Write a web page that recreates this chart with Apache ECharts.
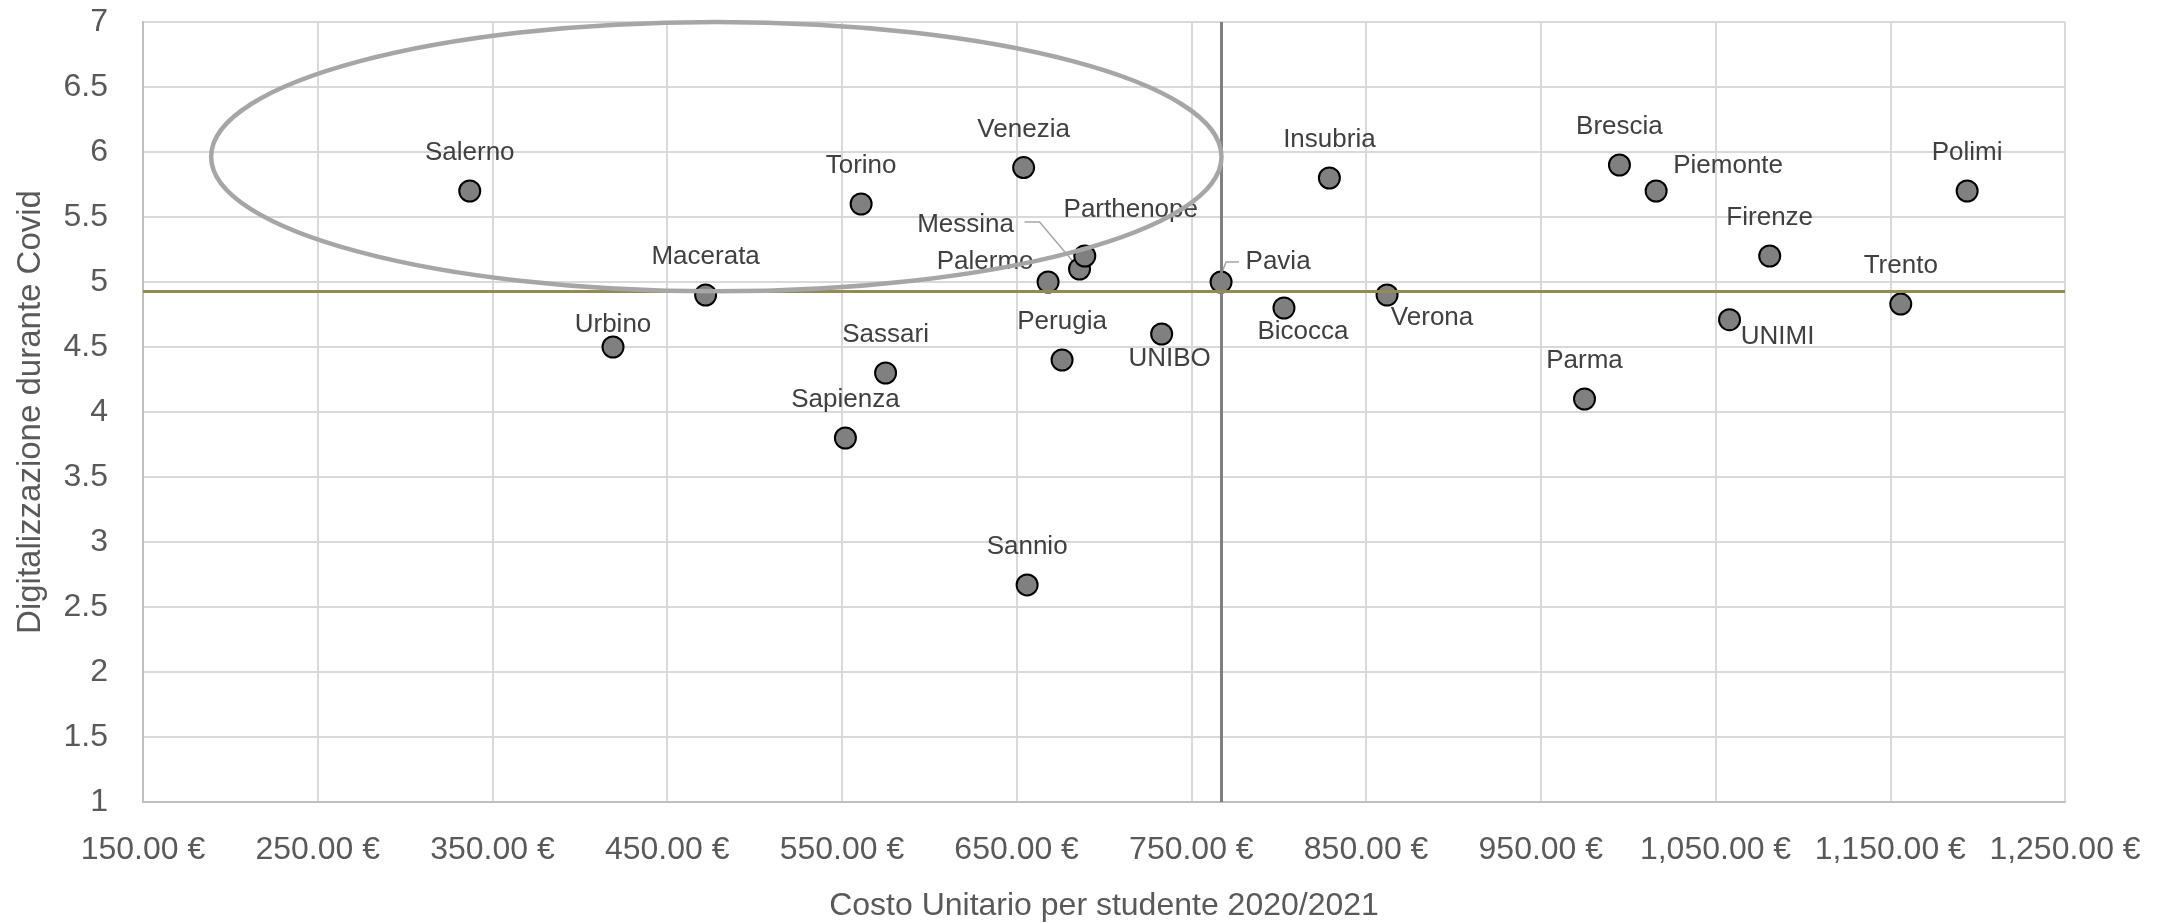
<!DOCTYPE html>
<html><head><meta charset="utf-8">
<script src="https://cdn.jsdelivr.net/npm/echarts@6/dist/echarts.min.js"></script>
<style>html,body{margin:0;padding:0;background:#fff}#c{width:2172px;height:923px}</style>
</head><body><div id="c"></div>
<script>
// ---- DATA ----
const universities = ['Salerno','Urbino','Macerata','Torino','Sassari','Sapienza','Venezia','Sannio','Palermo','Messina','Parthenope','Perugia','UNIBO','Pavia','Bicocca','Insubria','Verona','Parma','Brescia','Piemonte','UNIMI','Firenze','Trento','Polimi'];
const costPerStudent = [337, 419, 472, 561, 575, 552, 654, 656, 668, 686, 689, 676, 733, 767, 803, 829, 862, 975, 995, 1016, 1058, 1081, 1156, 1194];
const digitalization = [5.7, 4.5, 4.9, 5.6, 4.3, 3.8, 5.88, 2.67, 5.0, 5.1, 5.2, 4.4, 4.6, 5.0, 4.8, 5.8, 4.9, 4.1, 5.9, 5.7, 4.71, 5.2, 4.83, 5.7];
const xAxisRange = {min: 150, max: 1250, interval: 100};
const yAxisRange = {min: 1, max: 7, interval: 0.5};
const xTitle = 'Costo Unitario per studente 2020/2021';
const yTitle = 'Digitalizzazione durante Covid';
const ellipseLeftX = 189; // left end of the highlight ellipse (data units)

// ---- LABEL PLACEMENT (style, pixels relative to the marker) ----
const defaultOffset = [0, -38];
const labelOffsets = {
  'Urbino': [0, -22], 'Palermo': [-63, -20], 'Messina': [-114, -44], 'Parthenope': [46, -46],
  'UNIBO': [8, 25], 'Pavia': [57, -20], 'Bicocca': [19, 24], 'Verona': [45, 23],
  'Piemonte': [72, -25], 'UNIMI': [48, 17]
};
const leaderLines = {
  'Messina': [[-55, -47], [-40, -47], [-7, -8]],
  'Pavia': [[18, -20], [5, -20], [1, -10]]
};

const mean = a => a.reduce((s, v) => s + v, 0) / a.length;
const meanX = mean(costPerStudent), meanY = mean(digitalization);

const FONT = '"Liberation Sans", Arial, sans-serif';
const points = universities.map((n, i) => ({
  name: n, value: [costPerStudent[i], digitalization[i]],
  label: {offset: labelOffsets[n] || defaultOffset}
}));

const chart = echarts.init(document.getElementById('c'), null, {renderer: 'canvas'});
const fmtEuro = v => v.toLocaleString('en-US', {minimumFractionDigits: 2, maximumFractionDigits: 2}) + ' €';

chart.setOption({
  backgroundColor: '#ffffff',
  animation: false,
  grid: {left: 143, right: 107, top: 22, bottom: 121, containLabel: false, outerBoundsMode: 'none'},
  xAxis: {
    type: 'value', min: xAxisRange.min, max: xAxisRange.max, interval: xAxisRange.interval,
    name: xTitle, nameLocation: 'middle', nameGap: 88,
    nameTextStyle: {fontFamily: FONT, fontSize: 32, color: '#595959'},
    axisLine: {show: true, lineStyle: {color: '#bfbfbf', width: 2}},
    axisTick: {show: false},
    axisLabel: {fontFamily: FONT, fontSize: 32, color: '#595959', margin: 32, formatter: fmtEuro},
    splitLine: {show: true, lineStyle: {color: '#d9d9d9', width: 2}}
  },
  yAxis: {
    type: 'value', min: yAxisRange.min, max: yAxisRange.max, interval: yAxisRange.interval,
    name: yTitle, nameLocation: 'middle', nameGap: 96, nameRotate: 90,
    nameTextStyle: {fontFamily: FONT, fontSize: 33, color: '#595959'},
    axisLine: {show: true, lineStyle: {color: '#bfbfbf', width: 2}}, axisTick: {show: false},
    axisLabel: {fontFamily: FONT, fontSize: 32, color: '#595959', margin: 35},
    splitLine: {show: true, lineStyle: {color: '#d9d9d9', width: 2}}
  },
  series: [
    {
      type: 'scatter', data: [], silent: true,
      markLine: {
        silent: true, symbol: 'none', label: {show: false}, animation: false,
        data: [
          {xAxis: meanX, lineStyle: {color: '#7f7f7f', width: 3, type: 'solid'}},
          {yAxis: meanY, lineStyle: {color: '#948a54', width: 3, type: 'solid'}}
        ]
      }
    },
    {
      type: 'scatter', data: points, symbol: 'circle', symbolSize: 21,
      itemStyle: {color: '#808080', borderColor: '#000000', borderWidth: 2, opacity: 1},
      label: {show: true, position: 'inside', formatter: p => p.name,
        fontFamily: FONT, fontSize: 26, color: '#404040'},
      z: 3
    }
  ]
});

// annotations: ellipse and leader lines
const p1 = chart.convertToPixel({gridIndex: 0}, [ellipseLeftX, yAxisRange.max]);
const p2 = chart.convertToPixel({gridIndex: 0}, [meanX, meanY]);
const graphics = [{
  type: 'ellipse', z: 10, silent: true,
  shape: {cx: (p1[0] + p2[0]) / 2, cy: (p1[1] + p2[1]) / 2, rx: (p2[0] - p1[0]) / 2, ry: (p2[1] - p1[1]) / 2},
  style: {fill: null, stroke: '#a6a6a6', lineWidth: 4.5}
}];
Object.keys(leaderLines).forEach(n => {
  const i = universities.indexOf(n);
  const c = chart.convertToPixel({gridIndex: 0}, [costPerStudent[i], digitalization[i]]);
  graphics.push({
    type: 'polyline', z: 1, silent: true,
    shape: {points: leaderLines[n].map(d => [c[0] + d[0], c[1] + d[1]])},
    style: {fill: null, stroke: '#a6a6a6', lineWidth: 1.5}
  });
});
chart.setOption({graphic: graphics});
</script>
</body></html>
